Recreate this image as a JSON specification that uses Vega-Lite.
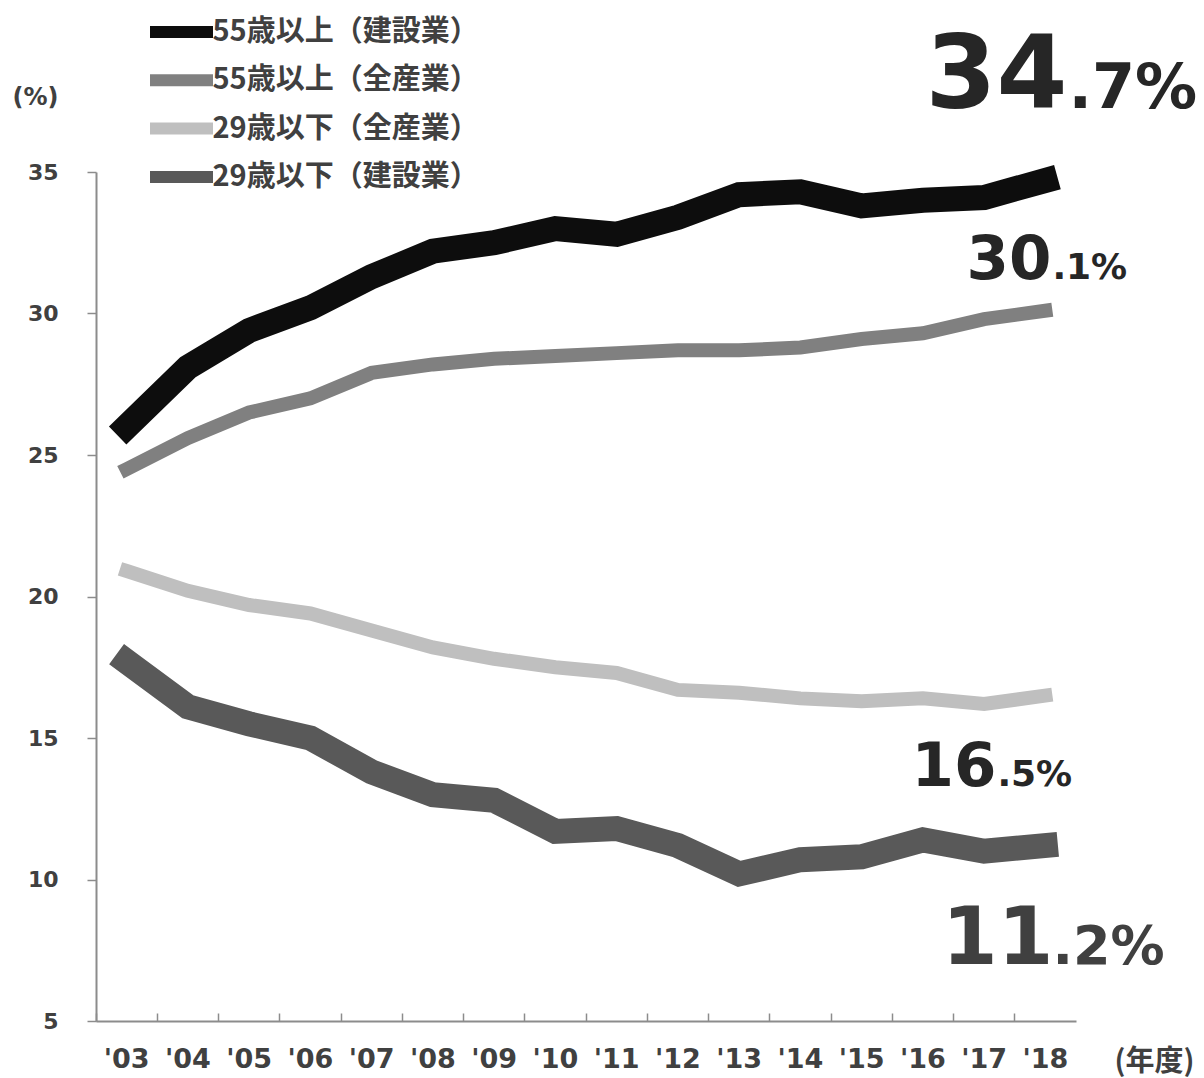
{
  "$schema": "https://vega.github.io/schema/vega-lite/v6.json",
  "width": 980,
  "height": 849,
  "autosize": {"type": "none"},
  "padding": {"left": 96, "top": 172, "right": 128, "bottom": 57},
  "background": "white",
  "config": {"view": {"stroke": null}},
  "datasets": {
    "lines": [
      {"year": "'03", "series": "55歳以上（建設業）", "value": 26.0},
      {"year": "'04", "series": "55歳以上（建設業）", "value": 28.1},
      {"year": "'05", "series": "55歳以上（建設業）", "value": 29.4},
      {"year": "'06", "series": "55歳以上（建設業）", "value": 30.2},
      {"year": "'07", "series": "55歳以上（建設業）", "value": 31.3},
      {"year": "'08", "series": "55歳以上（建設業）", "value": 32.2},
      {"year": "'09", "series": "55歳以上（建設業）", "value": 32.5},
      {"year": "'10", "series": "55歳以上（建設業）", "value": 33.0},
      {"year": "'11", "series": "55歳以上（建設業）", "value": 32.8},
      {"year": "'12", "series": "55歳以上（建設業）", "value": 33.4},
      {"year": "'13", "series": "55歳以上（建設業）", "value": 34.2},
      {"year": "'14", "series": "55歳以上（建設業）", "value": 34.3},
      {"year": "'15", "series": "55歳以上（建設業）", "value": 33.8},
      {"year": "'16", "series": "55歳以上（建設業）", "value": 34.0},
      {"year": "'17", "series": "55歳以上（建設業）", "value": 34.1},
      {"year": "'18", "series": "55歳以上（建設業）", "value": 34.7},
      {"year": "'03", "series": "55歳以上（全産業）", "value": 24.5},
      {"year": "'04", "series": "55歳以上（全産業）", "value": 25.6},
      {"year": "'05", "series": "55歳以上（全産業）", "value": 26.5},
      {"year": "'06", "series": "55歳以上（全産業）", "value": 27.0},
      {"year": "'07", "series": "55歳以上（全産業）", "value": 27.9},
      {"year": "'08", "series": "55歳以上（全産業）", "value": 28.2},
      {"year": "'09", "series": "55歳以上（全産業）", "value": 28.4},
      {"year": "'10", "series": "55歳以上（全産業）", "value": 28.5},
      {"year": "'11", "series": "55歳以上（全産業）", "value": 28.6},
      {"year": "'12", "series": "55歳以上（全産業）", "value": 28.7},
      {"year": "'13", "series": "55歳以上（全産業）", "value": 28.7},
      {"year": "'14", "series": "55歳以上（全産業）", "value": 28.8},
      {"year": "'15", "series": "55歳以上（全産業）", "value": 29.1},
      {"year": "'16", "series": "55歳以上（全産業）", "value": 29.3},
      {"year": "'17", "series": "55歳以上（全産業）", "value": 29.8},
      {"year": "'18", "series": "55歳以上（全産業）", "value": 30.1},
      {"year": "'03", "series": "29歳以下（全産業）", "value": 20.9},
      {"year": "'04", "series": "29歳以下（全産業）", "value": 20.2},
      {"year": "'05", "series": "29歳以下（全産業）", "value": 19.7},
      {"year": "'06", "series": "29歳以下（全産業）", "value": 19.4},
      {"year": "'07", "series": "29歳以下（全産業）", "value": 18.8},
      {"year": "'08", "series": "29歳以下（全産業）", "value": 18.2},
      {"year": "'09", "series": "29歳以下（全産業）", "value": 17.8},
      {"year": "'10", "series": "29歳以下（全産業）", "value": 17.5},
      {"year": "'11", "series": "29歳以下（全産業）", "value": 17.3},
      {"year": "'12", "series": "29歳以下（全産業）", "value": 16.7},
      {"year": "'13", "series": "29歳以下（全産業）", "value": 16.6},
      {"year": "'14", "series": "29歳以下（全産業）", "value": 16.4},
      {"year": "'15", "series": "29歳以下（全産業）", "value": 16.3},
      {"year": "'16", "series": "29歳以下（全産業）", "value": 16.4},
      {"year": "'17", "series": "29歳以下（全産業）", "value": 16.2},
      {"year": "'18", "series": "29歳以下（全産業）", "value": 16.5},
      {"year": "'03", "series": "29歳以下（建設業）", "value": 17.7},
      {"year": "'04", "series": "29歳以下（建設業）", "value": 16.1},
      {"year": "'05", "series": "29歳以下（建設業）", "value": 15.5},
      {"year": "'06", "series": "29歳以下（建設業）", "value": 15.0},
      {"year": "'07", "series": "29歳以下（建設業）", "value": 13.8},
      {"year": "'08", "series": "29歳以下（建設業）", "value": 13.0},
      {"year": "'09", "series": "29歳以下（建設業）", "value": 12.8},
      {"year": "'10", "series": "29歳以下（建設業）", "value": 11.7},
      {"year": "'11", "series": "29歳以下（建設業）", "value": 11.8},
      {"year": "'12", "series": "29歳以下（建設業）", "value": 11.2},
      {"year": "'13", "series": "29歳以下（建設業）", "value": 10.2},
      {"year": "'14", "series": "29歳以下（建設業）", "value": 10.7},
      {"year": "'15", "series": "29歳以下（建設業）", "value": 10.8},
      {"year": "'16", "series": "29歳以下（建設業）", "value": 11.4},
      {"year": "'17", "series": "29歳以下（建設業）", "value": 11.0},
      {"year": "'18", "series": "29歳以下（建設業）", "value": 11.2}
    ],
    "ann": [
      {"key": "a", "year": "'18", "value": 34.7, "intPart": "34", "decPart": ".7%"},
      {"key": "b", "year": "'18", "value": 30.1, "intPart": "30", "decPart": ".1%"},
      {"key": "c", "year": "'18", "value": 16.5, "intPart": "16", "decPart": ".5%"},
      {"key": "d", "year": "'18", "value": 11.2, "intPart": "11", "decPart": ".2%"}
    ]
  },
  "encoding": {
    "x": {
      "field": "year", "type": "ordinal", "sort": null,
      "scale": {"type": "band", "paddingInner": 0, "paddingOuter": 0},
      "axis": {
        "title": "(年度)", "titleX": 1058, "titleY": 40, "titleAlign": "center", "titleBaseline": "middle",
        "titleFont": "Noto Sans CJK JP", "titleFontSize": 29, "titleFontWeight": "bold", "titleColor": "#404040",
        "bandPosition": 0, "tickSize": -8, "tickWidth": 1.5, "tickColor": "#8c8c8c",
        "domainColor": "#8c8c8c", "domainWidth": 2,
        "labelAngle": 0, "labelFont": "DejaVu Sans", "labelFontWeight": "bold", "labelFontSize": 27,
        "labelColor": "#404040", "labelPadding": 33, "grid": false
      }
    },
    "y": {
      "field": "value", "type": "quantitative",
      "scale": {"domain": [5, 35], "nice": false, "zero": false},
      "axis": {
        "title": "(%)", "titleAngle": 0, "titleX": -61, "titleY": -75, "titleAlign": "center", "titleBaseline": "middle",
        "titleFont": "DejaVu Sans", "titleFontSize": 24, "titleFontWeight": "bold", "titleColor": "#404040",
        "values": [5, 10, 15, 20, 25, 30, 35], "tickSize": 9, "tickWidth": 1.5, "tickColor": "#8c8c8c",
        "domainColor": "#8c8c8c", "domainWidth": 2, "grid": false,
        "labelFont": "DejaVu Sans", "labelFontWeight": "bold", "labelFontSize": 22, "labelColor": "#404040",
        "labelPadding": 29
      }
    }
  },
  "layer": [
    {
      "data": {"name": "lines"},
      "transform": [{"filter": "indexof(datum.series, '建設業') >= 0"}],
      "mark": {"type": "line", "strokeCap": "square", "strokeJoin": "miter", "strokeWidth": 25},
      "encoding": {
        "color": {
          "field": "series", "type": "nominal",
          "scale": {
            "domain": ["55歳以上（建設業）", "55歳以上（全産業）", "29歳以下（全産業）", "29歳以下（建設業）"],
            "range": ["#0d0d0d", "#808080", "#bfbfbf", "#595959"]
          },
          "legend": {
            "title": null, "orient": "none", "legendX": 54, "legendY": -156, "padding": 0,
            "symbolType": "M-3.15,0L3.15,0", "symbolSize": 400, "symbolStrokeWidth": 12,
            "symbolOffset": 15.5, "labelOffset": 15, "rowPadding": 0.3,
            "labelFont": "Noto Sans CJK JP", "labelFontSize": 29, "labelFontWeight": "bold",
            "labelColor": "#404040", "labelLimit": 0
          }
        }
      }
    },
    {
      "data": {"name": "lines"},
      "transform": [{"filter": "indexof(datum.series, '全産業') >= 0"}],
      "mark": {"type": "line", "strokeCap": "square", "strokeJoin": "miter", "strokeWidth": 14},
      "encoding": {
        "color": {"field": "series", "type": "nominal"}
      }
    },
    {
      "data": {"name": "ann"},
      "transform": [{"filter": "datum.key === 'a'"}],
      "mark": {"type": "text", "align": "right", "baseline": "alphabetic", "dx": 22, "dy": -72, "font": "DejaVu Sans", "fontWeight": "bold", "fontSize": 102, "color": "#262626"},
      "encoding": {"text": {"field": "intPart"}}
    },
    {
      "data": {"name": "ann"},
      "transform": [{"filter": "datum.key === 'a'"}],
      "mark": {"type": "text", "align": "left", "baseline": "alphabetic", "dx": 23, "dy": -72, "font": "DejaVu Sans", "fontWeight": "bold", "fontSize": 62, "color": "#262626"},
      "encoding": {"text": {"field": "decPart"}}
    },
    {
      "data": {"name": "ann"},
      "transform": [{"filter": "datum.key === 'b'"}],
      "mark": {"type": "text", "align": "right", "baseline": "alphabetic", "dx": 6, "dy": -32, "font": "DejaVu Sans", "fontWeight": "bold", "fontSize": 61, "color": "#262626"},
      "encoding": {"text": {"field": "intPart"}}
    },
    {
      "data": {"name": "ann"},
      "transform": [{"filter": "datum.key === 'b'"}],
      "mark": {"type": "text", "align": "left", "baseline": "alphabetic", "dx": 7, "dy": -32, "font": "DejaVu Sans", "fontWeight": "bold", "fontSize": 36, "color": "#262626"},
      "encoding": {"text": {"field": "decPart"}}
    },
    {
      "data": {"name": "ann"},
      "transform": [{"filter": "datum.key === 'c'"}],
      "mark": {"type": "text", "align": "right", "baseline": "alphabetic", "dx": -49, "dy": 90, "font": "DejaVu Sans", "fontWeight": "bold", "fontSize": 61, "color": "#262626"},
      "encoding": {"text": {"field": "intPart"}}
    },
    {
      "data": {"name": "ann"},
      "transform": [{"filter": "datum.key === 'c'"}],
      "mark": {"type": "text", "align": "left", "baseline": "alphabetic", "dx": -48, "dy": 90, "font": "DejaVu Sans", "fontWeight": "bold", "fontSize": 36, "color": "#262626"},
      "encoding": {"text": {"field": "decPart"}}
    },
    {
      "data": {"name": "ann"},
      "transform": [{"filter": "datum.key === 'd'"}],
      "mark": {"type": "text", "align": "right", "baseline": "alphabetic", "dx": 8, "dy": 118, "font": "DejaVu Sans", "fontWeight": "bold", "fontSize": 80, "color": "#404040"},
      "encoding": {"text": {"field": "intPart"}}
    },
    {
      "data": {"name": "ann"},
      "transform": [{"filter": "datum.key === 'd'"}],
      "mark": {"type": "text", "align": "left", "baseline": "alphabetic", "dx": 7, "dy": 118, "font": "DejaVu Sans", "fontWeight": "bold", "fontSize": 54, "color": "#404040"},
      "encoding": {"text": {"field": "decPart"}}
    }
  ]
}
